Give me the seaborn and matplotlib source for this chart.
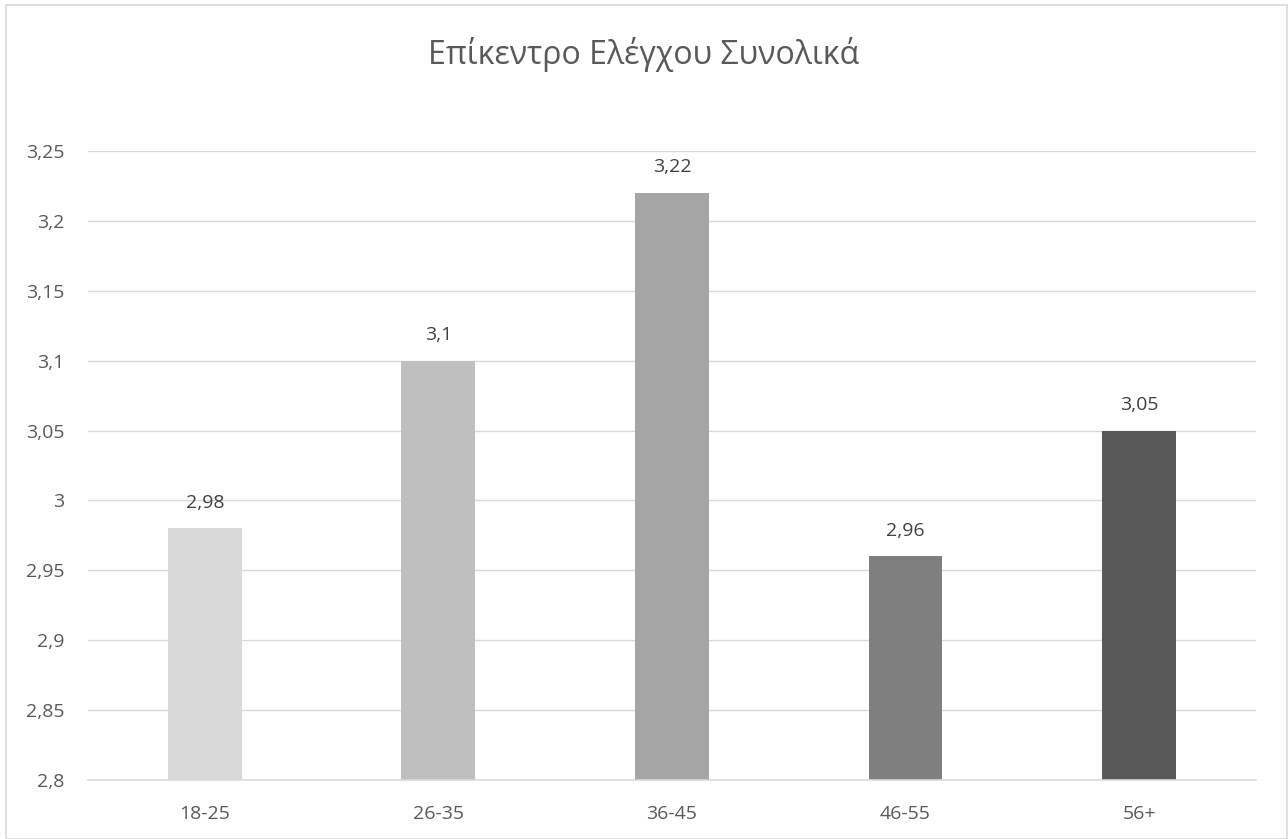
# import the libraries
import pandas as pd
import seaborn as sns
import matplotlib.pyplot as plt
from matplotlib.patches import Rectangle

# data
age_groups = ["18-25", "26-35", "36-45", "46-55", "56+"]
scores = [2.98, 3.10, 3.22, 2.96, 3.05]
bar_colors = ["#D9D9D9", "#BFBFBF", "#A5A5A5", "#7F7F7F", "#595959"]
y_ticks = [2.8, 2.85, 2.9, 2.95, 3.0, 3.05, 3.1, 3.15, 3.2, 3.25]

df = pd.DataFrame({"age": age_groups, "score": scores})

sns.set_style("white")
plt.rcParams["font.family"] = ["Open Sans", "DejaVu Sans"]

fig = plt.figure(figsize=(12.88, 8.39), dpi=100)
ax = fig.add_axes([0.0683, 0.0703, 0.9067, 0.7497])

# bars
sns.barplot(
    data=df, x="age", y="score", hue="age", palette=bar_colors,
    legend=False, width=0.316, saturation=1, linewidth=0, ax=ax, zorder=3
)

# y axis
ax.set_ylim(2.8, 3.25)
ax.set_yticks(y_ticks)
ax.set_yticklabels([f"{t:g}".replace(".", ",") for t in y_ticks])
ax.set_xlabel("")
ax.set_ylabel("")
ax.set_xlim(-0.5, len(age_groups) - 0.5)

# grid and spines
ax.grid(axis="y", color="#D9D9D9", linewidth=1, zorder=0)
for s in ax.spines.values():
    s.set_visible(False)
ax.spines["bottom"].set_visible(True)
ax.spines["bottom"].set_color("#D9D9D9")
ax.spines["bottom"].set_linewidth(1.2)
ax.spines["bottom"].set_zorder(4)
ax.tick_params(axis="both", length=0, labelsize=14, labelcolor="#595959")
ax.tick_params(axis="y", pad=17)
ax.tick_params(axis="x", pad=18)

# value labels
for i, v in enumerate(scores):
    ax.text(i, v + 0.012, f"{v:g}".replace(".", ","), ha="center", va="bottom",
            fontsize=14, color="#404040")

# title
fig.text(0.5, 0.935, "Επίκεντρο Ελέγχου Συνολικά", ha="center", va="center",
         fontsize=23, color="#595959")

# chart border
fig.patches.append(Rectangle((6 / 1288, 0), 1 - 7 / 1288, 1 - 5 / 839,
                             transform=fig.transFigure, fill=False,
                             edgecolor="#D9D9D9", linewidth=1.2))

fig.savefig("out.png", dpi=100)
